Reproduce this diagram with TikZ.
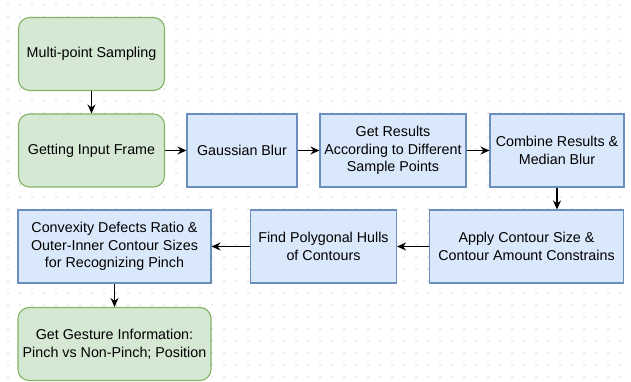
\documentclass[tikz,border=0pt]{standalone}
\usepackage{fontspec}
\setmainfont{Liberation Sans}
\usetikzlibrary{arrows.meta}
\definecolor{gfill}{HTML}{D5E8D4}
\definecolor{gdraw}{HTML}{82B366}
\definecolor{bfill}{HTML}{DAE8FC}
\definecolor{bdraw}{HTML}{6C8EBF}
\definecolor{griddot}{HTML}{DEDEDE}
\tikzset{
  base/.style={minimum height=73pt, align=center, font=\fontsize{14.3pt}{17.5pt}\selectfont, inner sep=1pt, line width=1.1pt},
  greenbox/.style={base, fill=gfill, draw=gdraw, rounded corners=11pt},
  bluebox/.style={base, fill=bfill, draw=bdraw},
  arr/.style={-{Stealth[length=9pt,width=8pt,inset=3pt]}, line width=1.2pt, black}
}
\begin{document}
\begin{tikzpicture}[x=1pt,y=-1pt]
\useasboundingbox (0,0) rectangle (631,382);
\fill[white] (0,0) rectangle (631,382);
\foreach \i in {0,...,52} {
  \foreach \j in {0,...,31} {
    \fill[griddot] (8+12*\i,5+12*\j) circle (1pt);
  }
}
\node[greenbox, minimum width=146pt] (A) at (91.5,54) {Multi-point Sampling};
\node[greenbox, minimum width=146pt] (B) at (91.5,150.5) {Getting Input Frame};
\node[bluebox, minimum width=110pt] (C) at (242,150.5) {Gaussian Blur};
\node[bluebox, minimum width=146pt] (D) at (393,150.5) {Get Results\\According to Different\\Sample Points};
\node[bluebox, minimum width=134pt] (E) at (557,150.5) {Combine Results \&\\Median Blur};
\node[bluebox, minimum width=194pt] (F) at (526.5,246.5) {Apply Contour Size \&\\Contour Amount Constrains};
\node[bluebox, minimum width=146pt] (G) at (323.5,246.5) {Find Polygonal Hulls\\of Contours};
\node[bluebox, minimum width=193pt] (H) at (114.5,246.5) {Convexity Defects Ratio \&\\Outer-Inner Contour Sizes\\for Recognizing Pinch};
\node[greenbox, minimum width=193pt] (I) at (114.5,344) {Get Gesture Information:\\Pinch vs Non-Pinch; Position};
\draw[arr] (A) -- (B);
\draw[arr] (B) -- (C);
\draw[arr] (C) -- (D);
\draw[arr] (D) -- (E);
\draw[arr] (E.south) -- (E.south |- F.north);
\draw[arr] (F) -- (G);
\draw[arr] (G) -- (H);
\draw[arr] (H.south) -- (H.south |- I.north);
\end{tikzpicture}
\end{document}
